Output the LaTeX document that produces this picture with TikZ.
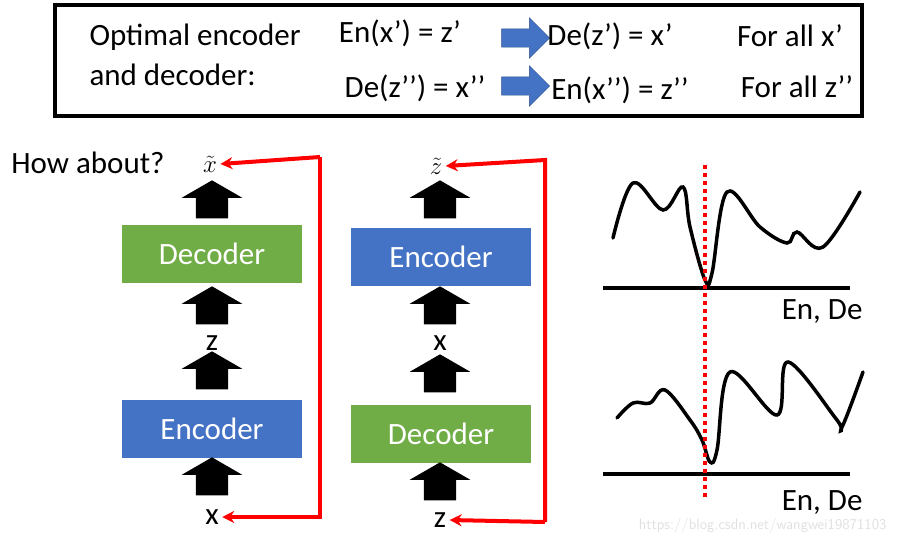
\documentclass[tikz,border=0pt]{standalone}
\usepackage{fontspec}
\setmainfont{Carlito}
\usetikzlibrary{shapes.arrows, arrows.meta}
\definecolor{encblue}{HTML}{4472C4}
\definecolor{decgreen}{HTML}{70AD47}
\begin{document}
\begin{tikzpicture}[x = 1pt, y = -1pt]
    \tikzstyle{every node} = [font = \fontsize{31}{36}\selectfont];
    \tikzstyle{block} = [minimum width = 180pt, minimum height = 58pt, text = white, draw = none];
    \tikzstyle{uparrow} = [single arrow, fill = black, shape border rotate = 90, inner sep = 0pt,
        minimum width = 60pt, minimum height = 38pt, single arrow head extend = 14pt,
        single arrow tip angle = 120, text width = 32pt];
    \tikzstyle{rarrow} = [single arrow, fill = encblue, draw = encblue!70!black, inner xsep = 0pt,
        inner ysep = 9pt, text width = 0pt, minimum width = 40pt, minimum height = 48pt,
        single arrow head extend = 11pt, single arrow tip angle = 90];
    \tikzstyle{feedback} = [red, line width = 4pt, -{Stealth[length = 12pt, width = 12pt]}];
    \useasboundingbox (0,0) rectangle (897,544);
    % top box
    \draw[line width = 4pt] (55,5) rectangle (862,116);
    \node[anchor = west] (opt1) at (86,37) {Optimal encoder};
    \node[anchor = west] (opt2) at (86,75) {and decoder:};
    \node (r1a) at (400,33) {En(x’) = z’};
    \node[rarrow] (ra1) at (521,38) {};
    \node (r1b) at (610,36) {De(z’) = x’};
    \node (r1c) at (790,36) {For all x’};
    \node (r2a) at (415,88) {De(z’’) = x’’};
    \node[rarrow] (ra2) at (521,86) {};
    \node (r2b) at (620,90) {En(x’’) = z’’};
    \node (r2c) at (797,87) {For all z’’};
    % left chain
    \node (how) at (88,163) {How about?};
    \node (xt) at (210,164) {$\tilde{x}$};
    \node[uparrow] (a1) at (212,204) {};
    \node[block, fill = decgreen] (dec1) at (212,254) {Decoder};
    \node[uparrow] (a2) at (212,310) {};
    \node (z1) at (212,343) {z};
    \node[uparrow] (a3) at (212,375) {};
    \node[block, fill = encblue] (enc1) at (212,429) {Encoder};
    \node[uparrow] (a4) at (212,481) {};
    \node (x1) at (212,517) {x};
    % middle chain
    \node (zt) at (436,166) {$\tilde{z}$};
    \node[uparrow] (b1) at (440,204) {};
    \node[block, fill = encblue] (enc2) at (441,257) {Encoder};
    \node[uparrow] (b2) at (440,310) {};
    \node (x2) at (440,343) {x};
    \node[uparrow] (b3) at (440,378) {};
    \node[block, fill = decgreen] (dec2) at (441,434) {Decoder};
    \node[uparrow] (b4) at (440,486) {};
    \node (z2) at (440,520) {z};
    \coordinate (c1) at (320,157);
    \coordinate (c2) at (320,517);
    \coordinate (c3) at (545,160);
    \coordinate (c4) at (545,522);
    \draw[feedback] (c1) -- (c2) -- (x1.east);
    \draw[feedback] (c1) -- (xt.east);
    \draw[feedback] (c4) -- (z2.east);
    \draw[feedback] (c4) -- (c3) -- (zt.east);
    % curves
    \draw[line width = 4pt] (603,288) -- (850,288);
    \draw[line width = 4pt] (603,474) -- (850,474);
    \draw[line width = 3.5pt, line cap = round] plot[smooth, tension = 0.6] coordinates {
        (613,238) (633,183) (663,210) (683,187) (690,227) (705,280) (712,273) (727,192)
        (760,227) (787,243) (797,232) (823,247) (860,192)};
    \draw[line width = 3.5pt, line cap = round] plot[smooth, tension = 0.6] coordinates {
        (617,418) (633,403) (650,403) (665,390) (690,420) (702,440) (710,462) (717,450)
        (730,372) (777,415) (788,362) (837,420) (842,427) (863,372)};
    \draw[red, line width = 3.5pt, dash pattern = on 4pt off 4pt] (705,165) -- (705,500);
    \node[anchor = east] (ende1) at (866,312) {En, De};
    \node[anchor = east] (ende2) at (866,503) {En, De};
    \node[anchor = east, text = black!12, font = \fontsize{15}{17}\selectfont\sffamily] (wm) at (890,526) {https://blog.csdn.net/wangwei19871103};
\end{tikzpicture}
\end{document}
